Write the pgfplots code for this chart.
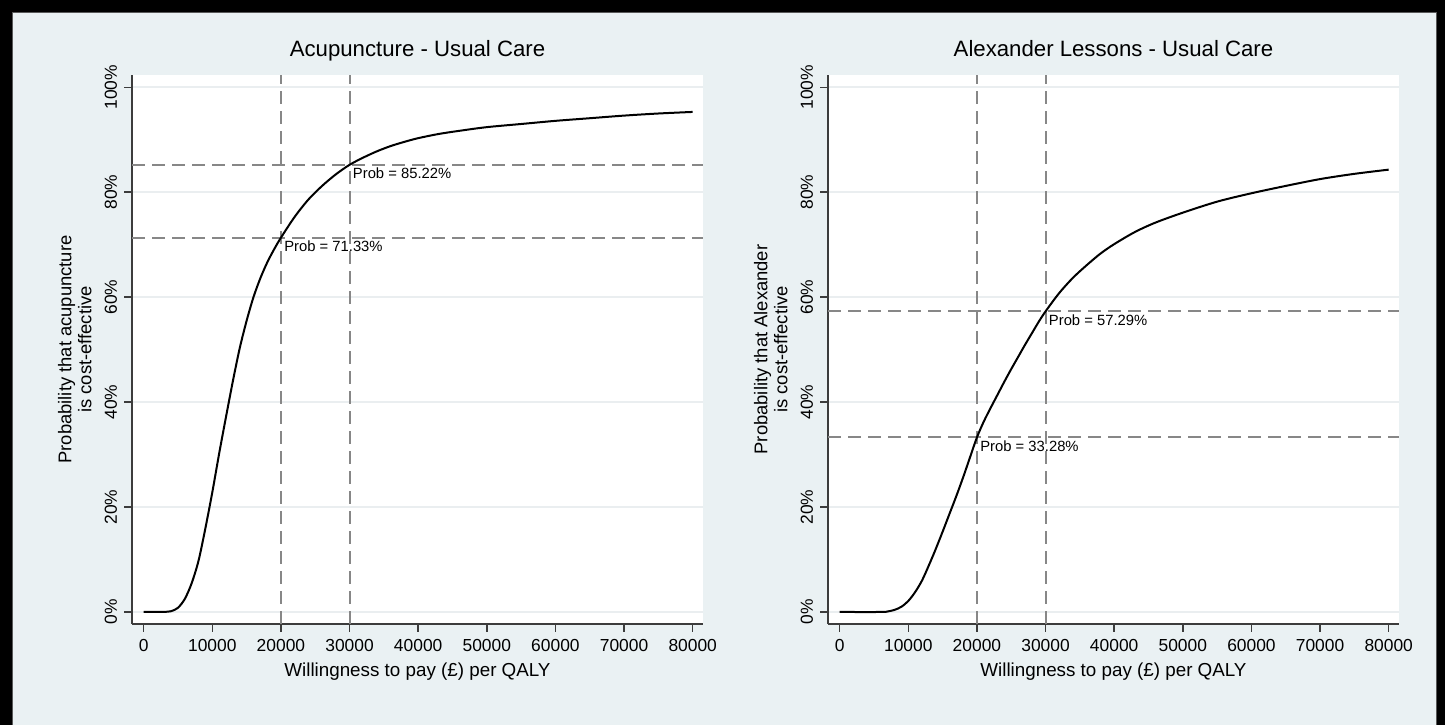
\documentclass[border=0pt]{standalone}
\usepackage{pgfplots}
\pgfplotsset{compat=1.18}
\usepackage{fontspec}
\setmainfont{Liberation Sans}
\definecolor{bgc}{RGB}{234,241,243}
\definecolor{gridc}{RGB}{234,238,240}
\definecolor{dashc}{RGB}{135,135,135}
\definecolor{axc}{RGB}{60,60,60}

\pgfplotstableread{
x y
0 0
2000 0
3000 0.02
4000 0.15
5000 0.8
6000 2.5
7000 5.5
8000 9.8
9000 16
10000 22.8
11000 30.2
12000 37.2
13000 44
14000 50.3
15000 55.5
16000 60
17000 63.6
18000 66.6
19000 69.1
20000 71.33
22000 75.3
24000 78.6
26000 81.2
28000 83.4
30000 85.22
32000 86.6
34000 87.8
36000 88.8
38000 89.6
40000 90.3
43000 91.1
46000 91.7
50000 92.4
55000 93.0
60000 93.6
65000 94.1
70000 94.6
75000 95.0
80000 95.3
}\acutab

\pgfplotstableread{
x y
0 0
6000 0
7000 0.1
8000 0.4
9000 1.0
10000 2.1
11000 3.8
12000 6.0
13000 8.9
14000 12.0
15000 15.3
16000 18.7
17000 22.1
18000 25.7
19000 29.5
20000 33.28
21000 36.3
22000 38.9
23000 41.4
24000 43.9
25000 46.3
26000 48.6
27000 50.9
28000 53.1
29000 55.3
30000 57.29
32000 60.8
34000 63.7
36000 66.1
38000 68.3
40000 70.1
43000 72.4
46000 74.2
50000 76.1
55000 78.2
60000 79.8
65000 81.2
70000 82.5
75000 83.5
80000 84.3
}\alextab

\tikzset{
  refline/.style={dashc, line width=1pt, dash pattern=on 6.5pt off 3.5pt},
  problab/.style={anchor=north west, inner sep=1.5pt, font=\fontsize{7.4}{9}\selectfont},
}
\pgfplotsset{
  ceac/.style={
    scale only axis,
    width=285.5pt, height=274.5pt,
    anchor=south west,
    xmin=-1700, xmax=81500,
    ymin=-2.29, ymax=102.34,
    axis x line*=bottom, axis y line*=left,
    axis line style={axc, line width=0.75pt},
    every tick/.style={axc, line width=0.75pt},
    tick align=outside,
    major tick length=4pt,
    scaled x ticks=false,
    xtick={0,10000,...,80000},
    xticklabels={0,10000,20000,30000,40000,50000,60000,70000,80000},
    ytick={0,20,40,60,80,100},
    yticklabels={0\%,20\%,40\%,60\%,80\%,100\%},
    yticklabel style={rotate=90, anchor=south},
    ticklabel style={font=\fontsize{8.7}{10}\selectfont, text=black},
    ymajorgrids,
    major grid style={gridc, line width=0.8pt},
    axis background/.style={fill=white},
    xlabel={Willingness to pay (£) per QALY},
    xlabel style={font=\fontsize{9.4}{11}\selectfont, at={(axis description cs:0.5,-0.0965)}, anchor=base},
    ylabel style={font=\fontsize{9.2}{10}\selectfont, align=center, at={(axis description cs:-0.1,0.5)}, anchor=center},
    title style={font=\fontsize{11.1}{13}\selectfont, at={(axis description cs:0.5,1.011)}, anchor=base},
    clip=true,
  },
}

\begin{document}
\begin{tikzpicture}
\fill[black] (0,0) rectangle (722.5pt,362.5pt);
\fill[bgc] (6pt,0) rectangle (718.5pt,356.5pt);
\draw[gray!70!black, line width=0.5pt] (6.25pt,0) -- (6.25pt,356.25pt) -- (718.25pt,356.25pt) -- (718.25pt,0);

\begin{axis}[ceac, at={(66pt,50.5pt)},
  title={Acupuncture - Usual Care},
  ylabel={Probability that acupuncture\\is cost-effective}]
\addplot[refline] coordinates {(20000,-2.29) (20000,102.34)};
\addplot[refline] coordinates {(30000,-2.29) (30000,102.34)};
\addplot[refline] coordinates {(-1700,71.33) (81500,71.33)};
\addplot[refline] coordinates {(-1700,85.22) (81500,85.22)};
\addplot[black, line width=1pt, smooth, tension=0.5] table[x=x,y=y] {\acutab};
\node[problab] at (axis cs:20000,71.33) {Prob = 71.33\%};
\node[problab] at (axis cs:30000,85.22) {Prob = 85.22\%};
\end{axis}

\begin{axis}[ceac, at={(414pt,50.5pt)},
  title={Alexander Lessons - Usual Care},
  ylabel={Probability that Alexander\\is cost-effective}]
\addplot[refline] coordinates {(20000,-2.29) (20000,102.34)};
\addplot[refline] coordinates {(30000,-2.29) (30000,102.34)};
\addplot[refline] coordinates {(-1700,33.28) (81500,33.28)};
\addplot[refline] coordinates {(-1700,57.29) (81500,57.29)};
\addplot[black, line width=1pt, smooth, tension=0.5] table[x=x,y=y] {\alextab};
\node[problab] at (axis cs:20000,33.28) {Prob = 33.28\%};
\node[problab] at (axis cs:30000,57.29) {Prob = 57.29\%};
\end{axis}
\useasboundingbox (0,0) rectangle (722.5pt,362.5pt);
\end{tikzpicture}
\end{document}
